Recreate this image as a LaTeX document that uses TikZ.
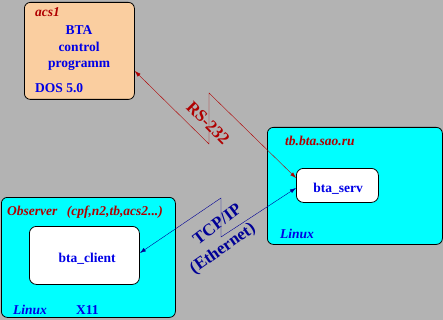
\documentclass[tikz,border=0pt]{standalone}
\usepackage{fontspec}
\setmainfont{Liberation Serif}
\usetikzlibrary{arrows.meta,calc}
\definecolor{bggray}{RGB}{179,179,179}
\definecolor{peach}{RGB}{250,206,160}
\definecolor{hostcyan}{RGB}{0,255,255}
\definecolor{hostred}{RGB}{176,0,0}
\definecolor{txtblue}{RGB}{0,0,230}
\definecolor{linkblue}{RGB}{0,0,150}
\begin{document}
\begin{tikzpicture}[x=1pt, y=-1pt,
  >={Latex[length=6pt,width=4pt]},
  host/.style={draw=black, thick, rounded corners=6pt, anchor=north west, inner sep=0pt},
  proc/.style={draw=black, thick, fill=white, rounded corners=7pt, anchor=north west, inner sep=0pt},
  hname/.style={font=\bfseries\itshape\fontsize{13.5}{14}\selectfont, text=hostred, anchor=base west, inner sep=0pt},
  lbl/.style={font=\bfseries\fontsize{13.5}{14}\selectfont, text=txtblue, anchor=base, inner sep=0pt},
  os/.style={font=\bfseries\itshape\fontsize{13.5}{14}\selectfont, text=txtblue, anchor=base west, inner sep=0pt},
  link/.style={font=\bfseries\fontsize{17}{18}\selectfont, inner sep=0pt}]
\fill[bggray] (0,0) rectangle (443,320);
\node[host, fill=peach, minimum width=110pt, minimum height=97pt] (acs1) at (24,2) {};
\node[host, fill=hostcyan, minimum width=175pt, minimum height=117pt] (tb) at (267,127) {};
\node[host, fill=hostcyan, minimum width=174pt, minimum height=120pt] (obs) at (1,197) {};
\node[proc, minimum width=82pt, minimum height=34pt] (serv) at (296,168) {};
\node[proc, minimum width=110pt, minimum height=58pt] (client) at (29,226) {};
\node[hname] (acsname) at (35,17) {acs1};
\node[lbl] (bta) at (79,35) {BTA};
\node[lbl] (ctrl) at (79,52) {control};
\node[lbl] (prog) at (79,68) {programm};
\node[lbl, anchor=base west] (dos) at (35,93) {DOS 5.0};
\node[hname] (tbname) at (285,146) {tb.bta.sao.ru};
\node[lbl] (servname) at (338,192) {bta\_serv};
\node[os] (tbos) at (280,238) {Linux};
\node[hname] (obsname) at (7,215) {Observer\hspace{6pt} (cpf,n2,tb,acs2...)};
\node[lbl] (clientname) at (87,262) {bta\_client};
\node[os] (obsos) at (13,314) {Linux};
\node[lbl, anchor=base west] (x11) at (76,314) {X11};
\coordinate (rsTop) at (209,93);
\coordinate (rsLow) at (209,144);
\coordinate (tcpTop) at (221,198);
\coordinate (tcpLow) at (221,237);
\draw[<->, hostred] ($(acs1.north east)+(0,69)$) -- (rsLow) -- (rsTop) -- ($(serv.north west)+(0,10)$);
\draw[<->, linkblue] ($(client.north east)+(0,27)$) -- (tcpTop) -- (tcpLow) -- ($(serv.north west)+(0,20)$);
\node[link, text=hostred, rotate=-45] (rs) at (208,123) {RS-232};
\node[link, text=linkblue, rotate=37] (tcp) at (217,224) {TCP/IP};
\node[link, text=linkblue, rotate=35] (eth) at (223,249) {(Ethernet)};
\end{tikzpicture}
\end{document}
